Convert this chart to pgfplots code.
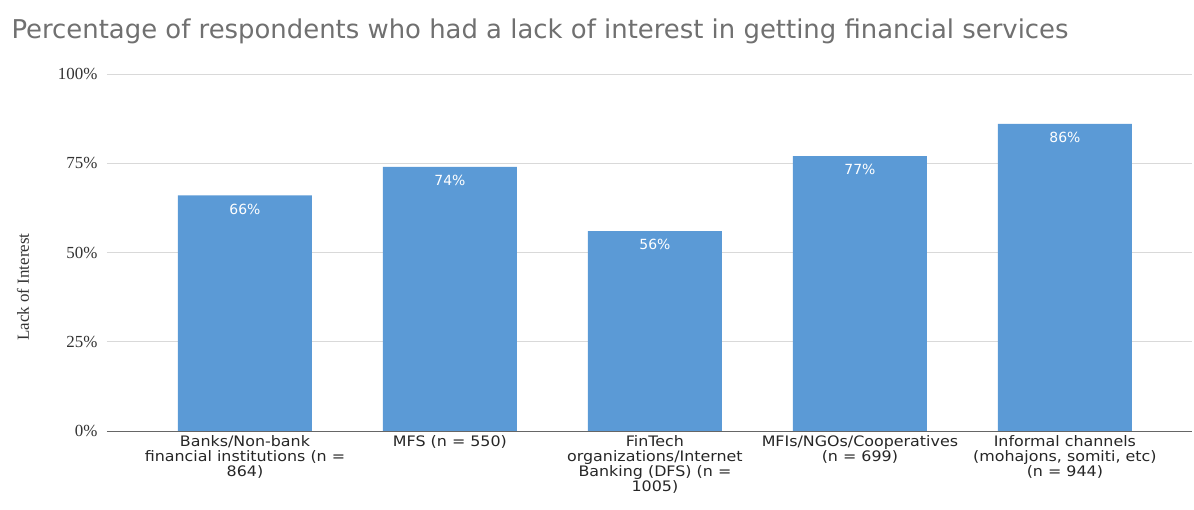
\documentclass[border=0pt]{standalone}
\usepackage{pgfplots}
\pgfplotsset{compat=1.18}
\usepackage{fontspec}
\setmainfont{Liberation Serif}
\newfontfamily\sansf{DejaVu Sans}
\newfontfamily\sansx[FakeStretch=1.1]{DejaVu Sans}
\definecolor{barblue}{HTML}{5B9AD6}
\definecolor{titlegray}{HTML}{707070}
\definecolor{gridgray}{HTML}{D9D9D9}
\begin{document}
\begin{tikzpicture}[x=1bp,y=1bp]
\useasboundingbox (-107,-79) rectangle (1087,431);
\begin{axis}[
  at={(0,0)}, anchor=south west,
  scale only axis, width=1085bp, height=357bp,
  xmin=-0.673, xmax=4.62, ymin=0, ymax=100,
  ybar, bar width=134bp,
  axis x line*=bottom, axis y line*=left,
  x axis line style={draw=gray!80!black, line width=0.8pt},
  y axis line style={draw=none},
  ytick={0,25,50,75,100},
  yticklabel={\pgfmathprintnumber{\tick}\%},
  /pgf/number format/assume math mode=true,
  yticklabel style={font=\fontsize{17}{17}\selectfont, text=black!80, xshift=-6bp},
  ymajorgrids, grid style={gridgray, line width=0.8pt},
  major tick length=0pt,
  xtick=data,
  xticklabels={{Banks/Non-bank\\financial institutions (n =\\864)},{MFS (n = 550)},{FinTech\\organizations/Internet\\Banking (DFS) (n =\\1005)},{MFIs/NGOs/Cooperatives\\(n = 699)},{Informal channels\\(mohajons, somiti, etc)\\(n = 944)}},
  xticklabel style={font=\sansx\fontsize{14.5}{15}\selectfont, align=center, text=black!85, yshift=-1bp},
  nodes near coords={\pgfmathprintnumber{\pgfplotspointmeta}\%},
  nodes near coords style={anchor=north, text=white, font=\sansf\fontsize{14}{14}\selectfont, yshift=-5bp},
  clip=false,
]
\addplot[fill=barblue, draw=none] coordinates {(0,66) (1,74) (2,56) (3,77) (4,86)};
\end{axis}
\node[anchor=west, text=titlegray, font=\sansf\fontsize{26}{26}\selectfont] at (-99,400) {Percentage of respondents who had a lack of interest in getting financial services};
\node[rotate=90, font=\fontsize{17}{17}\selectfont, text=black!80] at (-84,144) {Lack of Interest};
\end{tikzpicture}
\end{document}
